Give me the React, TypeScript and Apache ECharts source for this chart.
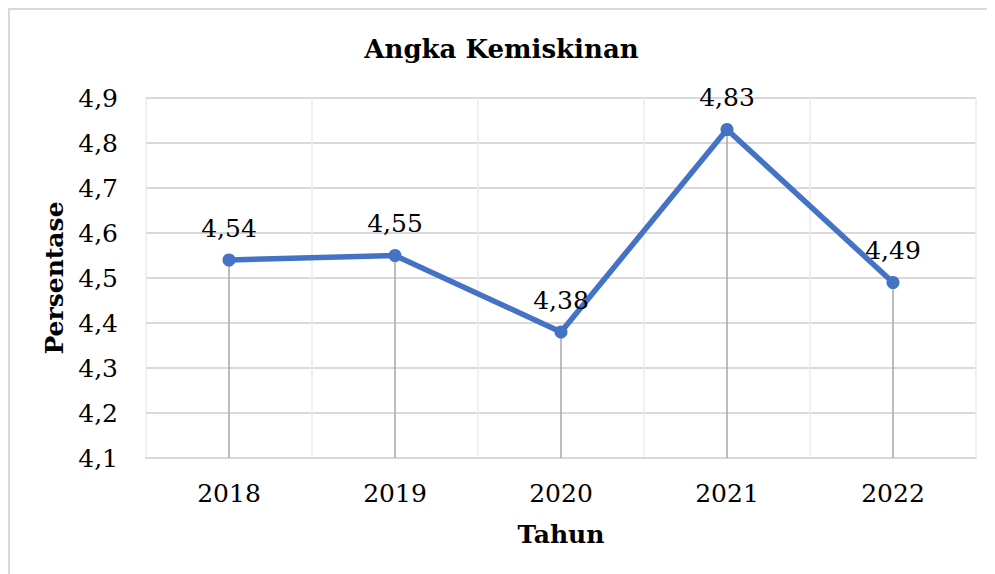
import React, { useEffect, useRef } from "react";
import * as echarts from "echarts";

const years = ["2018", "2019", "2020", "2021", "2022"];
const values = [4.54, 4.55, 4.38, 4.83, 4.49];
const yMin = 4.1;
const yMax = 4.9;
const yStep = 0.1;

const FONT = "DejaVu Serif";
const fmt = (v: number) => v.toFixed(v === Math.round(v * 10) / 10 ? 1 : 2).replace(".", ",");

export default function App() {
  const ref = useRef<HTMLDivElement>(null);
  useEffect(() => {
    const chart = echarts.init(ref.current!, undefined, { renderer: "svg" });
    chart.setOption({
      animation: false,
      backgroundColor: "#ffffff",
      title: {
        text: "Angka Kemiskinan",
        left: "center",
        top: 23,
        textStyle: { fontFamily: FONT, fontWeight: "bold", fontSize: 26, color: "#000" },
      },
      graphic: [
        {
          type: "rect",
          shape: { x: 1, y: 1, width: 1100, height: 800 },
          style: { fill: "none", stroke: "#d9d9d9", lineWidth: 2 },
          silent: true,
        },
      ],
      grid: { left: 138, top: 90, width: 830, height: 360, containLabel: false },
      xAxis: {
        type: "category",
        data: years,
        boundaryGap: true,
        name: "Tahun",
        nameLocation: "middle",
        nameGap: 64,
        nameTextStyle: { fontFamily: FONT, fontWeight: "bold", fontSize: 25, color: "#000" },
        axisLine: { show: true, lineStyle: { color: "#d9d9d9", width: 2 } },
        axisTick: { show: false },
        axisLabel: { fontFamily: FONT, fontSize: 25, color: "#000", margin: 23 },
        splitLine: { show: true, lineStyle: { color: "#ebebeb", width: 1.5 } },
      },
      yAxis: {
        type: "value",
        min: yMin,
        max: yMax,
        interval: yStep,
        name: "Persentase",
        nameLocation: "middle",
        nameGap: 76,
        nameRotate: 90,
        nameTextStyle: { fontFamily: FONT, fontWeight: "bold", fontSize: 25, color: "#000" },
        axisLine: { show: false },
        axisTick: { show: false },
        axisLabel: {
          fontFamily: FONT,
          fontSize: 25,
          color: "#000",
          margin: 28,
          formatter: (v: number) => v.toFixed(1).replace(".", ","),
        },
        splitLine: { show: true, lineStyle: { color: "#d9d9d9", width: 2 } },
      },
      series: [
        {
          type: "line",
          data: values,
          symbol: "circle",
          symbolSize: 13,
          itemStyle: { color: "#4472c4" },
          lineStyle: { color: "#4472c4", width: 5.5 },
          label: {
            show: true,
            position: "top",
            distance: 13,
            fontFamily: FONT,
            fontSize: 25,
            color: "#000",
            formatter: (p: any) => fmt(p.value),
          },
          z: 3,
          markLine: {
            silent: true,
            symbol: "none",
            label: { show: false },
            lineStyle: { color: "#a6a6a6", width: 1.5, type: "solid" },
            data: years.map((y, i) => [
              { coord: [y, values[i]] },
              { coord: [y, yMin] },
            ]),
            z: 2,
          },
        },
      ],
    });
    return () => chart.dispose();
  }, []);
  return <div ref={ref} style={{ width: 987, height: 566 }} />;
}
